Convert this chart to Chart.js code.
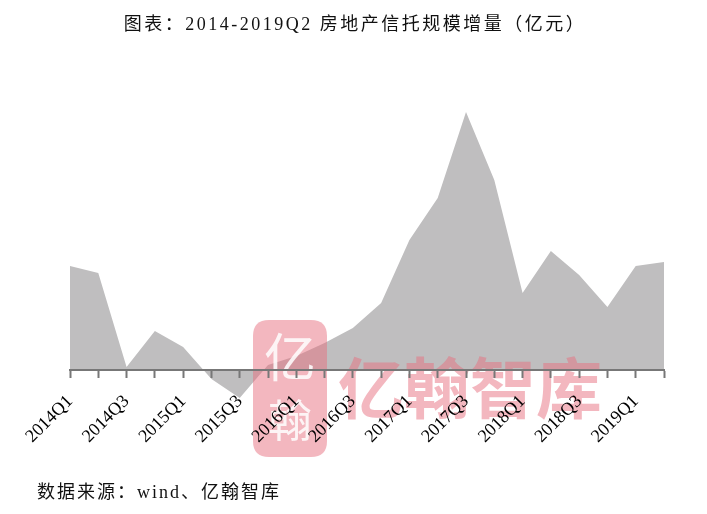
<!DOCTYPE html>
<html><head><meta charset="utf-8">
<script src="https://cdn.jsdelivr.net/npm/chart.js@4/dist/chart.umd.min.js"></script>
<style>html,body{margin:0;padding:0;background:#fff;}#wrap{width:707px;height:514px;position:relative;}</style>
</head><body><div id="wrap"><canvas id="c" width="707" height="514"></canvas></div>
<script>
const titleText = "图表：2014-2019Q2 房地产信托规模增量（亿元）";
const sourceText = "数据来源：wind、亿翰智库";
const watermarkText = "亿翰智库";
const sealTop = "亿";
const sealBottom = "翰";
const categories = ["2014Q1","2014Q2","2014Q3","2014Q4","2015Q1","2015Q2","2015Q3","2015Q4","2016Q1","2016Q2","2016Q3","2016Q4","2017Q1","2017Q2","2017Q3","2017Q4","2018Q1","2018Q2","2018Q3","2018Q4","2019Q1","2019Q2"];
const increments = [104,97,3,39,23,-9,-28,5,14,27,42,67,130,172,258,190,77,119,95,63,104,108];

const overlay = {
  id:'overlay',
  beforeDatasetsDraw(chart){
    const ctx = chart.ctx;
    ctx.save();
    ctx.fillStyle = '#111';
    ctx.font = '18px "Liberation Serif", "Noto Sans CJK SC"';
    ctx.letterSpacing = '2.5px';
    ctx.textAlign = 'center'; ctx.textBaseline = 'middle';
    ctx.fillText(titleText, 355, 25);
    ctx.font = '18px "Liberation Serif", "Noto Sans CJK SC"';
    ctx.letterSpacing = '2px';
    ctx.textAlign = 'left';
    ctx.fillText(sourceText, 37, 493);
    ctx.restore();
  },
  afterDatasetsDraw(chart){
    const ctx = chart.ctx;
    ctx.save();
    ctx.globalAlpha = 0.5;
    ctx.fillStyle = '#e8707f';
    const x=253,y=320,w=74,h=137,r=16;
    ctx.beginPath();
    ctx.moveTo(x+r,y);ctx.lineTo(x+w-r,y);ctx.quadraticCurveTo(x+w,y,x+w,y+r);
    ctx.lineTo(x+w,y+h-r);ctx.quadraticCurveTo(x+w,y+h,x+w-r,y+h);
    ctx.lineTo(x+r,y+h);ctx.quadraticCurveTo(x,y+h,x,y+h-r);
    ctx.lineTo(x,y+r);ctx.quadraticCurveTo(x,y,x+r,y);ctx.fill();
    ctx.font = 'bold 66px "Noto Sans CJK SC"';
    ctx.textAlign='left'; ctx.textBaseline='middle';
    ctx.fillText(watermarkText, 338, 388);
    ctx.globalAlpha = 0.85;
    ctx.fillStyle = '#ffffff';
    ctx.textAlign='center';
    ctx.font = '52px "Noto Sans CJK SC"';
    ctx.fillText(sealTop, 290, 357);
    ctx.font = '44px "Noto Sans CJK SC"';
    ctx.fillText(sealBottom, 290, 420);
    ctx.restore();
  }
};

new Chart(document.getElementById('c'), {
  type:'line',
  data:{ labels:categories, datasets:[{ data:increments, fill:'origin', backgroundColor:'#bfbebf', borderWidth:0, pointRadius:0, tension:0 }]},
  options:{
    responsive:false, animation:false,
    layout:{ padding:{ left:70, right:43, top:108, bottom:114 } },
    plugins:{ legend:{display:false}, tooltip:{enabled:false} },
    scales:{
      y:{ display:false, min:-30, max:262 },
      x:{ position:{y:0}, offset:false,
          grid:{ display:true, z:1, drawOnChartArea:false, drawTicks:true, tickLength:7, tickColor:'#777', tickWidth:2 },
          border:{ display:true, z:1, color:'#777', width:2 },
          ticks:{ z:1, autoSkip:false, maxRotation:45, minRotation:45, padding:14, color:'#000',
                  font:{ family:'"Liberation Serif"', size:18 },
                  callback:function(v,i){ return i%2===0 ? this.getLabelForValue(v) : ''; } } }
    }
  },
  plugins:[overlay]
});
</script></body></html>
